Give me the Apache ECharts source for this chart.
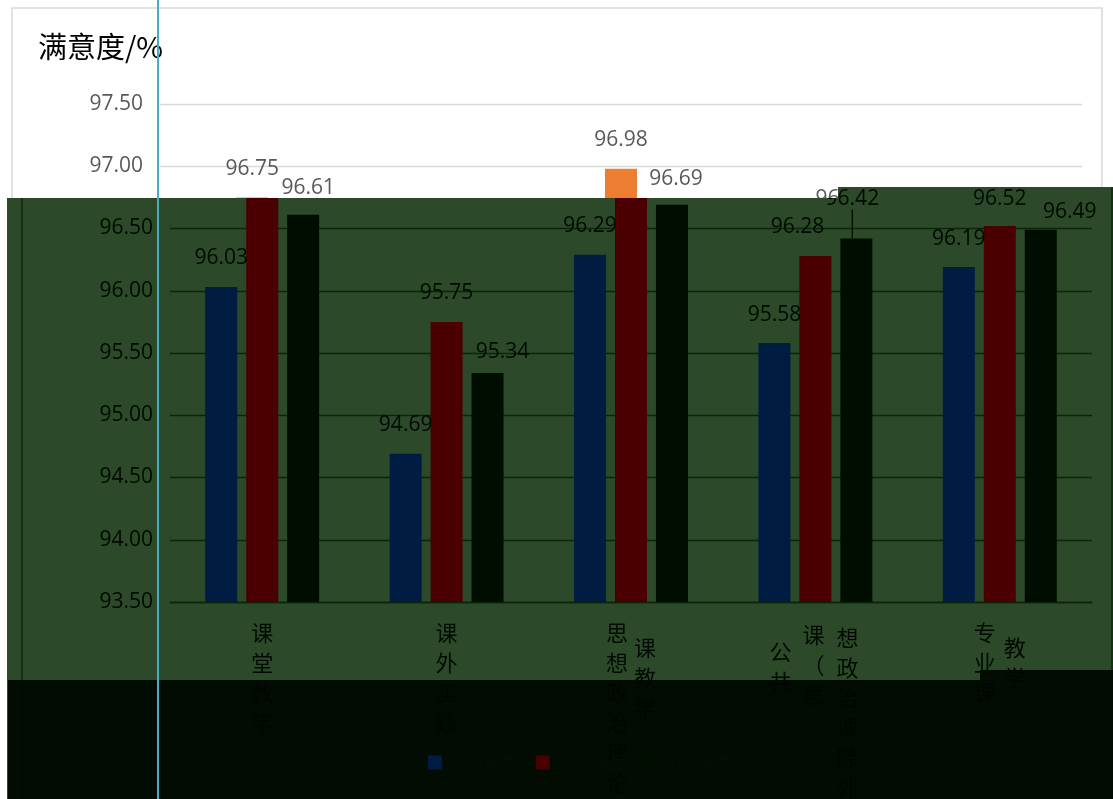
<!DOCTYPE html>
<html><head><meta charset="utf-8">
<script src="https://cdn.jsdelivr.net/npm/echarts@6/dist/echarts.min.js"></script>
<style>
html,body{margin:0;padding:0;width:1113px;height:799px;overflow:hidden;background:#fff}
#a,#b{position:absolute;left:0;top:0;width:1113px;height:799px}
#b{clip-path: polygon(7px 198px, 838px 198px, 838px 187px, 1113px 187px, 1113px 799px, 7px 799px);}
#cyan{position:absolute;left:157px;top:0;width:2px;height:799px;background:#4bacc6}
</style></head><body>
<div id="a"></div><div id="b"></div><div id="cyan"></div>
<script>
// ---- data ----
const categories = ['课堂教学', '课外实践', '思想政治理论课教学', '公共课（思想政治课除外）', '专业课教学'];
const seriesNames = ['2021年度', '2022年度', '2023年度'];
const values2021 = [96.03, 94.69, 96.29, 95.58, 96.19];
const values2022 = [96.75, 95.75, 96.98, 96.28, 96.52];
const values2023 = [96.61, 95.34, 96.69, 96.42, 96.49];
const yTickLabels = ['93.50', '94.00', '94.50', '95.00', '95.50', '96.00', '96.50', '97.00', '97.50'];
const labelColumns = [['课堂教学'], ['课外实践'], ['思想政治理论', '课教学'], ['公共', '课（思', '想政治课除外）'], ['专业课', '教学']];

// ---- layout / style config ----
const seriesValues = [values2021, values2022, values2023];
const colDx = [[0], [0], [-14, 14], [-35, -2, 32], [-15, 15]];
const colTop = [[618], [618], [618, 633], [637, 620, 623], [618, 633]];
const labelShift = [
  [[0,0],[0,0],[0,0],[0,0],[0,0]],
  [[0,0],[0,0],[0,0],[-18,0],[0,2]],
  [[15,2],[15,8],[14,3],[-4,-11],[29,11]]
];
const yMin = parseFloat(yTickLabels[0]);
const yMax = parseFloat(yTickLabels[yTickLabels.length - 1]);
const yStep = parseFloat(yTickLabels[1]) - yMin;

const coverFill = 'rgba(0,7,0,0.92)';
const themeA = {
  bars: ['#4472C4', '#ED7D31', '#A5A5A5'], label: '#595959', grid: '#D9D9D9',
  cat: '#595959', border: '#D9D9D9', title: '#000000', legend: '#595959', bg: [], cover: []
};
const themeB = {
  bars: ['#001c42', '#4a0000', '#000d01'], label: '#000a00', grid: '#0a250a',
  cat: '#000a00', border: '#0b2a0b', title: '#000a00', legend: '#031003',
  bg: [
    {type: 'rect', z: -100, shape: {x: 7, y: 198, width: 1106, height: 601}, style: {fill: '#2c4a2a'}},
    {type: 'rect', z: -100, shape: {x: 838, y: 187, width: 275, height: 12}, style: {fill: '#2c4a2a'}}
  ],
  cover: [
    {type: 'rect', z: -70, shape: {x: 8, y: 680, width: 1105, height: 119}, style: {fill: coverFill}},
    {type: 'rect', z: -70, shape: {x: 980, y: 670, width: 133, height: 10}, style: {fill: coverFill}}
  ]
};

function baseGraphics(theme, dx) {
  return theme.bg.concat([
    {type: 'rect', z: -95, shape: {x: 12 + dx, y: 8, width: 1090, height: 800},
     style: {fill: 'none', stroke: theme.border, lineWidth: 1.5}}
  ]).concat(theme.cover);
}

function buildOption(theme, dx) {
  return {
    animation: false,
    title: {text: '满意度/%', left: 33 + dx, top: 27,
      textStyle: {fontSize: 29, fontWeight: 'normal', color: theme.title, fontFamily: 'Noto Sans CJK SC'}},
    legend: {left: 423, top: 749, itemWidth: 14, itemHeight: 14, icon: 'rect', itemGap: 17,
      textStyle: {color: theme.legend, fontSize: 17, fontFamily: 'Noto Sans CJK SC'}},
    grid: {left: 160 + dx, right: 31 - dx, top: 104, bottom: 197, containLabel: false},
    xAxis: {type: 'category', data: categories,
      axisLine: {show: true, lineStyle: {color: theme.grid, width: 1.3}},
      axisTick: {show: false}, axisLabel: {show: false}},
    yAxis: {type: 'value', min: yMin, max: yMax, interval: yStep,
      axisLine: {show: false}, axisTick: {show: false},
      splitLine: {lineStyle: {color: theme.grid, width: 1.3}},
      axisLabel: {color: theme.label, fontSize: 21, margin: 17, fontFamily: 'Open Sans',
        formatter: v => v.toFixed(2)}},
    graphic: baseGraphics(theme, dx),
    series: seriesValues.map((vals, si) => ({
      name: seriesNames[si], type: 'bar', barWidth: 32, barGap: '28%',
      itemStyle: {color: theme.bars[si]},
      data: vals.map((v, i) => (si === 2 && i === 3)
        ? {value: v, labelLine: {show: true, lineStyle: {color: theme.label, width: 1.3}}}
        : v),
      label: {show: true, position: 'top', distance: 18, color: theme.label, fontSize: 21,
        fontFamily: 'Open Sans', formatter: p => Number(p.value).toFixed(2)},
      labelLayout: p => ({dx: labelShift[si][p.dataIndex][0], dy: labelShift[si][p.dataIndex][1]})
    }))
  };
}

function render(el, theme, dx) {
  const chart = echarts.init(document.getElementById(el), null, {renderer: 'canvas'});
  chart.setOption(buildOption(theme, dx));
  const texts = [];
  categories.forEach((c, i) => {
    const cx = chart.convertToPixel({xAxisIndex: 0}, c);
    labelColumns[i].forEach((col, k) => {
      texts.push({type: 'text', z: -80, style: {
        text: col.split('').join('\n'), x: cx + colDx[i][k], y: colTop[i][k],
        fill: theme.cat, font: '22px "Noto Sans CJK SC"', align: 'center',
        verticalAlign: 'top', lineHeight: 30}});
    });
  });
  chart.setOption({graphic: baseGraphics(theme, dx).concat(texts)});
}

render('a', themeA, 0);
render('b', themeB, 10);
</script>
</body></html>
